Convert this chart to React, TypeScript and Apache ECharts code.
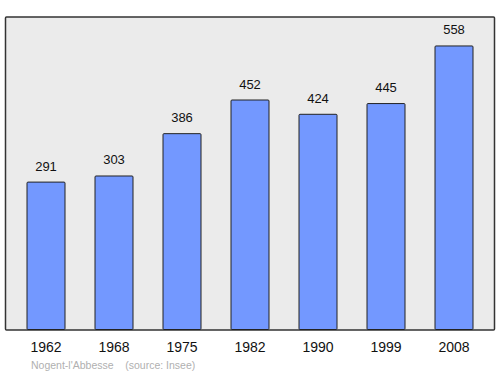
import React, { useEffect, useRef } from "react";
import * as echarts from "echarts";

const years = ["1962", "1968", "1975", "1982", "1990", "1999", "2008"];
const population = [291, 303, 386, 452, 424, 445, 558];
const footer = "Nogent-l'Abbesse    (source: Insee)";

export default function App() {
  const ref = useRef<HTMLDivElement>(null);
  useEffect(() => {
    if (!ref.current) return;
    const chart = echarts.init(ref.current, null, { renderer: "svg" });
    const maxVal = Math.max(...population) * 1.1;
    chart.setOption({
      animation: false,
      textStyle: { fontFamily: "Liberation Sans, Arial, sans-serif" },
      graphic: [
        {
          type: "rect",
          z: -10,
          shape: { x: 5.5, y: 17, width: 489, height: 313, r: 1 },
          style: { fill: "#ebebeb", stroke: "#333", lineWidth: 1.5 },
        },
        {
          type: "text",
          left: 31,
          top: 359,
          style: {
            text: footer,
            fill: "#b0b0b0",
            font: "10.5px Liberation Sans, Arial, sans-serif",
          },
        },
      ],
      grid: { left: 12, right: 12, top: 17, bottom: 44 },
      xAxis: {
        type: "category",
        data: years,
        axisLine: { show: false },
        axisTick: { show: false },
        axisLabel: { color: "#111", fontSize: 14, margin: 10 },
      },
      yAxis: {
        type: "value",
        min: 0,
        max: maxVal,
        show: false,
        splitLine: { show: false },
      },
      series: [
        {
          type: "bar",
          data: population,
          barWidth: 39,
          itemStyle: { color: "#7398ff", borderColor: "#222", borderWidth: 1, borderRadius: 1 },
          label: { show: true, position: "top", distance: 9, color: "#111", fontSize: 13 },
        },
      ],
    });
    return () => chart.dispose();
  }, []);
  return <div ref={ref} style={{ width: 500, height: 374, position: "absolute", left: 0, top: 0 }} />;
}
